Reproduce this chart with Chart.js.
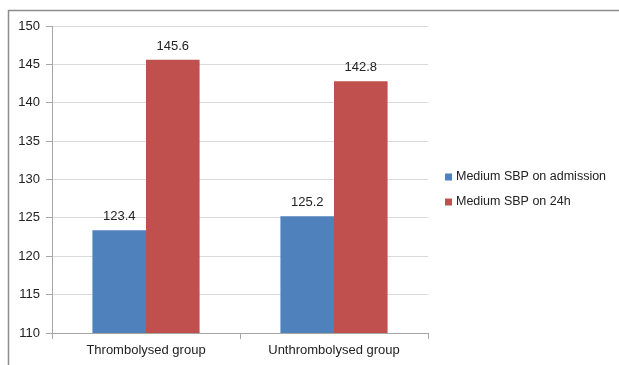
<!DOCTYPE html>
<html>
<head>
<meta charset="utf-8">
<script src="https://cdn.jsdelivr.net/npm/chart.js@4"></script>
<style>
  html, body { margin: 0; padding: 0; background: #fff; }
  #wrap { position: relative; width: 619px; height: 365px; }
</style>
</head>
<body>
<div id="wrap"><canvas id="sbpChart" width="619" height="365"></canvas></div>
<script>
// groups on the x axis
var groups = ['Thrombolysed group', 'Unthrombolysed group'];

// mean systolic pressure per group
var sbpAdmission = [123.4, 125.2];
var sbp24h = [145.6, 142.8];

var seriesNames = ['Medium SBP on admission', 'Medium SBP on 24h'];
var colors = ['#4F81BD', '#C0504D'];

var FONT = '"Liberation Sans", Arial, sans-serif';

// writes the value above each bar
var valueLabels = {
    id: 'valueLabels',
    afterDatasetsDraw: function (chart) {
        var ctx = chart.ctx;
        ctx.save();
        ctx.font = '13px ' + FONT;
        ctx.fillStyle = '#222';
        ctx.textAlign = 'center';
        ctx.textBaseline = 'bottom';
        chart.data.datasets.forEach(function (ds, i) {
            chart.getDatasetMeta(i).data.forEach(function (bar, j) {
                ctx.fillText(ds.data[j].toFixed(1), bar.x, bar.y - 7);
            });
        });
        ctx.restore();
    }
};

// legend to the right of the plot plus the top/left frame line
var sideLegend = {
    id: 'sideLegend',
    afterDraw: function (chart) {
        var ctx = chart.ctx;
        ctx.save();
        ctx.strokeStyle = '#8c8c8c';
        ctx.lineWidth = 1.5;
        ctx.beginPath();
        ctx.moveTo(8.5, 365);
        ctx.lineTo(8.5, 10.5);
        ctx.lineTo(619, 10.5);
        ctx.stroke();

        ctx.font = '12.5px ' + FONT;
        ctx.textBaseline = 'middle';
        ctx.textAlign = 'left';
        chart.data.datasets.forEach(function (ds, i) {
            var y = 177 + i * 25;
            ctx.fillStyle = ds.backgroundColor;
            ctx.fillRect(445, y - 3.5, 7, 7);
            ctx.fillStyle = '#222';
            ctx.fillText(ds.label, 456, y);
        });
        ctx.restore();
    }
};

var ctx = document.getElementById('sbpChart').getContext('2d');

var sbpChart = new Chart(ctx, {
    type: 'bar',
    data: {
        labels: groups,
        datasets: [
            { label: seriesNames[0], data: sbpAdmission, backgroundColor: colors[0] },
            { label: seriesNames[1], data: sbp24h, backgroundColor: colors[1] }
        ]
    },
    options: {
        responsive: false,
        animation: false,
        layout: { padding: { left: 8, top: 26, right: 191, bottom: 0 } },
        datasets: {
            bar: { categoryPercentage: 0.57, barPercentage: 1.0 }
        },
        plugins: {
            legend: { display: false },
            tooltip: { enabled: false }
        },
        scales: {
            x: {
                offset: true,
                grid: {
                    offset: true,
                    drawOnChartArea: false,
                    tickLength: 6,
                    color: '#a6a6a6'
                },
                border: { color: '#a6a6a6' },
                ticks: {
                    color: '#222',
                    font: { family: FONT, size: 13 },
                    padding: 4
                },
                afterFit: function (scale) { scale.height = 32; }
            },
            y: {
                min: 110,
                max: 150,
                ticks: {
                    stepSize: 5,
                    color: '#222',
                    font: { family: FONT, size: 13 },
                    padding: 6
                },
                grid: { color: '#d9d9d9', tickLength: 6, tickColor: '#a6a6a6' },
                border: { color: '#a6a6a6' },
                afterFit: function (scale) { scale.width = 44; }
            }
        }
    },
    plugins: [valueLabels, sideLegend]
});
</script>
</body>
</html>
